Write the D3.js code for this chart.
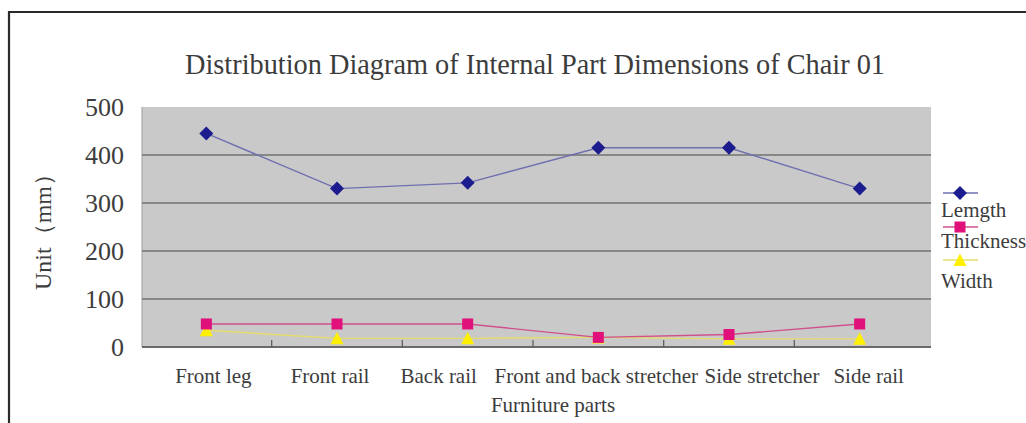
<!DOCTYPE html>
<html><head><meta charset="utf-8">
<script src="https://cdn.jsdelivr.net/npm/d3@7"></script>
<style>
html,body{margin:0;padding:0;background:#fff;}
svg{display:block;}
text{font-family:"Liberation Serif","DejaVu Serif",serif;fill:#3c3c3c;}
</style></head>
<body><svg id="c" width="1026" height="423"></svg>
<script>
const categories = ["Front leg","Front rail","Back rail","Front and back stretcher","Side stretcher","Side rail"];
const lengthValues = [445, 330, 342, 415, 415, 330];
const thicknessValues = [48, 48, 48, 20, 26, 48];
const widthValues = [35, 18, 18, 20, 17, 17];
const yTicks = [0, 100, 200, 300, 400, 500];
const seriesNames = ["Lemgth", "Thickness", "Width"];
const titleText = "Distribution Diagram of Internal Part Dimensions of Chair 01";
const yTitle = "Unit（mm）";
const xTitle = "Furniture parts";

// layout: horizontal nudges of category labels (to avoid overlap, as in the original)
const labelNudge = [7, -7, -29, -2, 33, 9];

const svg = d3.select("#c");
const L = 142, R = 931, T = 107, B = 347;
const x = d3.scaleBand().domain(categories).range([141, 925]);
const y = d3.scaleLinear().domain([0, 500]).range([B, T]);
const cx = d => x(d) + x.bandwidth() / 2;

// frame
svg.append("path").attr("d", "M9,423 V12 H1026").attr("fill", "none")
  .attr("stroke", "#2a2a2a").attr("stroke-width", 2.2);

// title
svg.append("text").attr("x", 535).attr("y", 74).attr("text-anchor", "middle")
  .attr("font-size", 29).attr("textLength", 700).attr("lengthAdjust", "spacingAndGlyphs")
  .attr("fill", "#404040").text(titleText);

// plot background
svg.append("rect").attr("x", L).attr("y", T).attr("width", R - L).attr("height", B - T)
  .attr("fill", "#c9c9c9");
svg.append("line").attr("x1", L).attr("x2", L).attr("y1", T).attr("y2", B)
  .attr("stroke", "#a8a8a8").attr("stroke-width", 1.2);

// gridlines
svg.append("g").selectAll("line").data(yTicks.filter(v => v > 0 && v < 500)).join("line")
  .attr("x1", L).attr("x2", R).attr("y1", d => y(d)).attr("y2", d => y(d))
  .attr("stroke", "#707070").attr("stroke-width", 1.5);

// x axis line + ticks
svg.append("line").attr("x1", L).attr("x2", R).attr("y1", B).attr("y2", B)
  .attr("stroke", "#6a6a6a").attr("stroke-width", 2);
svg.append("g").selectAll("line").data(categories.slice(1)).join("line")
  .attr("x1", d => x(d)).attr("x2", d => x(d)).attr("y1", B - 7).attr("y2", B)
  .attr("stroke", "#606060").attr("stroke-width", 1.3);

// y axis labels
const ya = svg.append("g").attr("transform", `translate(${L},0)`)
  .call(d3.axisLeft(y).tickValues(yTicks).tickSize(0).tickPadding(18));
ya.select(".domain").remove();
ya.selectAll("text").attr("font-size", 26).attr("fill", "#3c3c3c")
  .style("font-family", '"Liberation Serif", serif');

// x axis labels
const xa = svg.append("g").attr("transform", `translate(0,${B})`)
  .call(d3.axisBottom(x).tickSize(0));
xa.select(".domain").remove();
xa.selectAll("text").attr("font-size", 21).attr("fill", "#3c3c3c")
  .attr("y", 36).attr("dy", 0)
  .attr("x", (d, i) => labelNudge[i])
  .style("font-family", '"Liberation Serif", serif');

// axis titles
svg.append("text").attr("transform", "translate(51,226) rotate(-90)")
  .attr("text-anchor", "middle").attr("font-size", 23)
  .attr("textLength", 128).attr("lengthAdjust", "spacingAndGlyphs").text(yTitle);
svg.append("text").attr("x", 553).attr("y", 412).attr("text-anchor", "middle")
  .attr("font-size", 21).text(xTitle);

// series
const series = [
  {name: seriesNames[0], vals: lengthValues, line: "#7070b0", mark: "#1c1c8e", shape: "diamond"},
  {name: seriesNames[1], vals: thicknessValues, line: "#d0508e", mark: "#e0117a", shape: "square"},
  {name: seriesNames[2], vals: widthValues, line: "#e6dc6a", mark: "#fff000", shape: "triangle"}
];
const lineGen = d3.line().x((d, i) => cx(categories[i])).y(d => y(d));
[series[2], series[1], series[0]].forEach(s => {
  svg.append("path").attr("d", lineGen(s.vals)).attr("fill", "none")
    .attr("stroke", s.line).attr("stroke-width", 1.4);
});
function marker(g, shape, px, py, color) {
  if (shape === "diamond") {
    g.append("path").attr("d", `M${px},${py-7}L${px+7},${py}L${px},${py+7}L${px-7},${py}Z`).attr("fill", color);
  } else if (shape === "square") {
    g.append("rect").attr("x", px - 5.5).attr("y", py - 5.5).attr("width", 11).attr("height", 11).attr("fill", color);
  } else {
    g.append("path").attr("d", `M${px},${py-6.5}L${px+6.5},${py+6}L${px-6.5},${py+6}Z`).attr("fill", color);
  }
}
const mg = svg.append("g");
[series[2], series[1], series[0]].forEach(s => {
  s.vals.forEach((v, i) => marker(mg, s.shape, cx(categories[i]), y(v), s.mark));
});

// legend
const lg = svg.append("g");
const legY = [193, 227, 260];
const legTextY = [217, 248, 288];
series.forEach((s, i) => {
  lg.append("line").attr("x1", 943).attr("x2", 978).attr("y1", legY[i]).attr("y2", legY[i])
    .attr("stroke", s.line).attr("stroke-width", 1.4);
  marker(lg, s.shape, 960, legY[i], s.mark);
  lg.append("text").attr("x", 941).attr("y", legTextY[i]).attr("font-size", 21).text(s.name);
});
</script></body></html>
